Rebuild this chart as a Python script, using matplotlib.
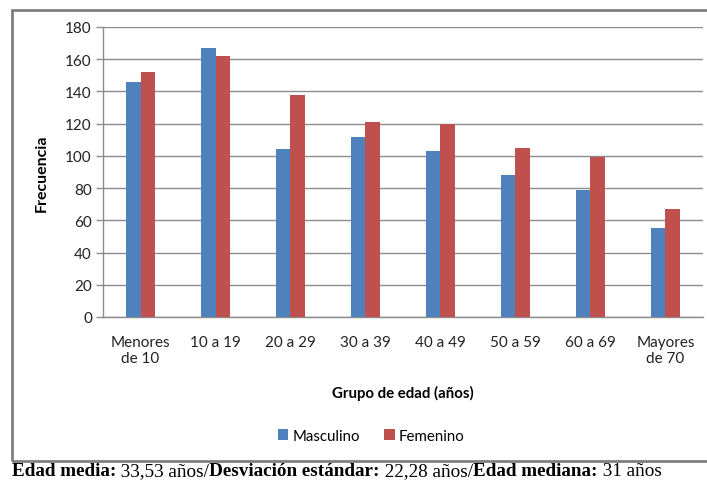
import matplotlib.pyplot as plt
import numpy as np
from matplotlib.patches import Rectangle

# Frecuencia por grupo de edad y sexo
grupos = ["Menores\nde 10", "10 a 19", "20 a 29", "30 a 39",
          "40 a 49", "50 a 59", "60 a 69", "Mayores\nde 70"]
masculino = [146, 167, 104, 112, 103, 88, 79, 55]
femenino = [152, 162, 138, 121, 120, 105, 99, 67]

resumen = [("Edad media:", True), (" 33,53 años/", False),
           ("Desviación estándar:", True), (" 22,28 años/", False),
           ("Edad mediana:", True), (" 31 años", False)]

AZUL = "#4F81BD"
ROJO = "#C0504D"
GRIS = "#8C8C8C"

plt.rcParams["font.family"] = ["Lato", "DejaVu Sans"]

fig = plt.figure(figsize=(7.07, 4.81), dpi=100)
ax = fig.add_axes([0.1457, 0.3389, 0.8486, 0.6029])

x = np.arange(len(grupos))
w = 0.195
ax.bar(x - w / 2, masculino, w, color=AZUL, label="Masculino", zorder=3)
ax.bar(x + w / 2, femenino, w, color=ROJO, label="Femenino", zorder=3)

ax.set_xlim(-0.5, len(grupos) - 0.5)
ax.set_ylim(0, 180)
ax.set_yticks(range(0, 181, 20))
ax.set_xticks(x)
ax.set_xticklabels(grupos, fontsize=11, color="#222222")
ax.tick_params(axis="y", labelsize=11, colors="#222222", length=5,
               width=1, color=GRIS, pad=3)
ax.tick_params(axis="x", length=0, pad=13)
ax.grid(axis="y", color=GRIS, linewidth=1, zorder=0)

for s in ("top", "right"):
    ax.spines[s].set_visible(False)
for s in ("left", "bottom"):
    ax.spines[s].set_color(GRIS)
    ax.spines[s].set_linewidth(1)

ax.set_ylabel("Frecuencia", fontsize=11.5, fontweight="bold", labelpad=12)
fig.text(0.57, 0.183, "Grupo de edad (años)", fontsize=10.8,
         fontweight="bold", ha="center", va="center")

fig.legend(loc="center", bbox_to_anchor=(0.525, 0.092), ncol=2, frameon=False,
           fontsize=10.8, handlelength=0.7, handleheight=0.7,
           handletextpad=0.3, columnspacing=1.6)

# marco exterior
fig.add_artist(Rectangle((0.017, 0.04), 1.0, 0.937, transform=fig.transFigure,
                         fill=False, edgecolor="#7F7F7F", linewidth=2))

# linea de resumen con partes en negrita, una pieza tras otra
renderer = fig.canvas.get_renderer()
x0 = 0.017
for txt, negrita in resumen:
    t = fig.text(x0, 0.02, txt, family="Liberation Serif", fontsize=13.8,
                 fontweight="bold" if negrita else "normal",
                 va="center", ha="left")
    bb = t.get_window_extent(renderer=renderer)
    x0 = bb.x1 / fig.bbox.width

fig.savefig("out.png", dpi=100)
